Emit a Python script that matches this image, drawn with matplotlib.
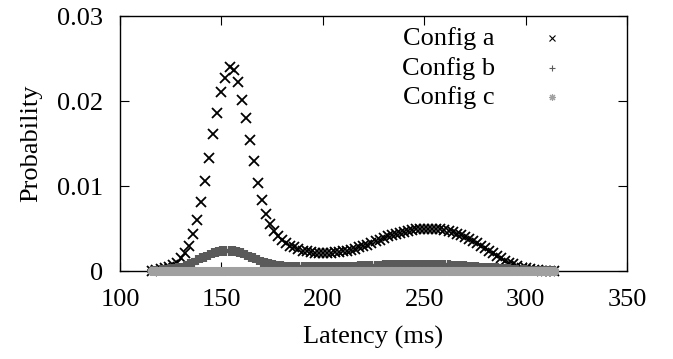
import numpy as np
import matplotlib
matplotlib.use("Agg")
import matplotlib.pyplot as plt

plt.rcParams["font.family"] = ["Liberation Serif", "DejaVu Serif"]
plt.rcParams["font.size"] = 19

# latency bins (ms), 2 ms apart
latency = np.arange(116, 315, 2)

# Config a
prob_a = [
    0.0000, 0.0001, 0.0002, 0.0003, 0.0005, 0.0007, 0.0010, 0.0015, 0.0021, 0.0030,  # 116-134
    0.0044, 0.0060, 0.0081, 0.0106, 0.0133, 0.0161, 0.0186, 0.0211, 0.0227, 0.0240,  # 136-154
    0.0236, 0.0222, 0.0201, 0.0180, 0.0154, 0.0129, 0.0104, 0.0083, 0.0067, 0.0055,  # 156-174
    0.0047, 0.0041, 0.0037, 0.0033, 0.0030, 0.0028, 0.0026, 0.0024, 0.0023, 0.0022,  # 176-194
    0.0021, 0.0021, 0.0021, 0.0021, 0.0021, 0.0022, 0.0022, 0.0023, 0.0024, 0.0025,  # 196-214
    0.0026, 0.0028, 0.0029, 0.0031, 0.0033, 0.0035, 0.0037, 0.0039, 0.0041, 0.0042,  # 216-234
    0.0044, 0.0045, 0.0046, 0.0047, 0.0048, 0.0049, 0.0049, 0.0050, 0.0050, 0.0050,  # 236-254
    0.0050, 0.0049, 0.0048, 0.0047, 0.0046, 0.0044, 0.0042, 0.0040, 0.0038, 0.0035,  # 256-274
    0.0033, 0.0030, 0.0027, 0.0024, 0.0021, 0.0018, 0.0015, 0.0012, 0.0010, 0.0008,  # 276-294
    0.0006, 0.0004, 0.0003, 0.0002, 0.0001, 0.0001, 0.0000, 0.0000, 0.0000, 0.0000,  # 296-314
]

# Config b
prob_b = [
    0.0000, 0.0000, 0.0001, 0.0001, 0.0002, 0.0002, 0.0003, 0.0004, 0.0006, 0.0008,
    0.0010, 0.0013, 0.0015, 0.0017, 0.0019, 0.0021, 0.0022, 0.0023, 0.0023, 0.0023,
    0.0023, 0.0022, 0.0021, 0.0019, 0.0017, 0.0015, 0.0013, 0.0011, 0.0009, 0.0008,
    0.0007, 0.0006, 0.0006, 0.0005, 0.0005, 0.0005, 0.0005, 0.0005, 0.0005, 0.0005,
    0.0005, 0.0005, 0.0005, 0.0005, 0.0005, 0.0005, 0.0005, 0.0005, 0.0005, 0.0005,
    0.0005, 0.0006, 0.0006, 0.0006, 0.0006, 0.0006, 0.0006, 0.0007, 0.0007, 0.0007,
    0.0007, 0.0007, 0.0007, 0.0007, 0.0007, 0.0007, 0.0007, 0.0007, 0.0007, 0.0007,
    0.0007, 0.0007, 0.0007, 0.0007, 0.0006, 0.0006, 0.0006, 0.0006, 0.0005, 0.0005,
    0.0005, 0.0004, 0.0004, 0.0003, 0.0003, 0.0003, 0.0002, 0.0002, 0.0002, 0.0001,
    0.0001, 0.0001, 0.0001, 0.0000, 0.0000, 0.0000, 0.0000, 0.0000, 0.0000, 0.0000,
]

# Config c
prob_c = [0.0000] * 100

asterisk = (8, 2, 0)  # eight-spoke star like gnuplot's point type 3

series = [
    ("Config a", prob_a, "x", "black", 7.5, 1.3),
    ("Config b", prob_b, "+", "#5a5a5a", 7.0, 3.0),
    ("Config c", prob_c, asterisk, "#a0a0a0", 6.5, 2.2),
]

fig = plt.figure(figsize=(6.73, 3.59), dpi=100)
ax = fig.add_axes([0.1783, 0.2451, 0.7533, 0.7103])

for i, (name, vals, mk, col, ms, mew) in enumerate(series):
    ax.plot(latency, vals, linestyle="none", marker=mk, color=col,
            markersize=ms, markeredgewidth=mew, clip_on=False, zorder=2 + i)

ax.set_xlim(100, 350)
ax.set_ylim(0, 0.03)
ax.set_xticks([100, 150, 200, 250, 300, 350])
ax.set_yticks([0, 0.01, 0.02, 0.03])
ax.set_yticklabels(["0", "0.01", "0.02", "0.03"])
ax.tick_params(direction="in", length=6.5, width=0.8, top=True, right=True)
ax.tick_params(axis="x", pad=13)
ax.tick_params(axis="y", pad=12)
for sp in ax.spines.values():
    sp.set_linewidth(1.0)

ax.set_xlabel("Latency (ms)", labelpad=11)
ax.set_ylabel("Probability", labelpad=11)

# key: label right-aligned, sample marker on the right
key_y = [0.9137, 0.796, 0.682]
key_ms = [4.5, 4.5, 5.0]
for (name, vals, mk, col, ms, mew), ky, kms in zip(series, key_y, key_ms):
    ax.text(0.7396, ky, name, transform=ax.transAxes, ha="right", va="center")
    ax.plot([0.852], [ky], transform=ax.transAxes, linestyle="none", marker=mk,
            color=col, markersize=kms, markeredgewidth=0.8, clip_on=False)

fig.savefig("out.png", dpi=100)
